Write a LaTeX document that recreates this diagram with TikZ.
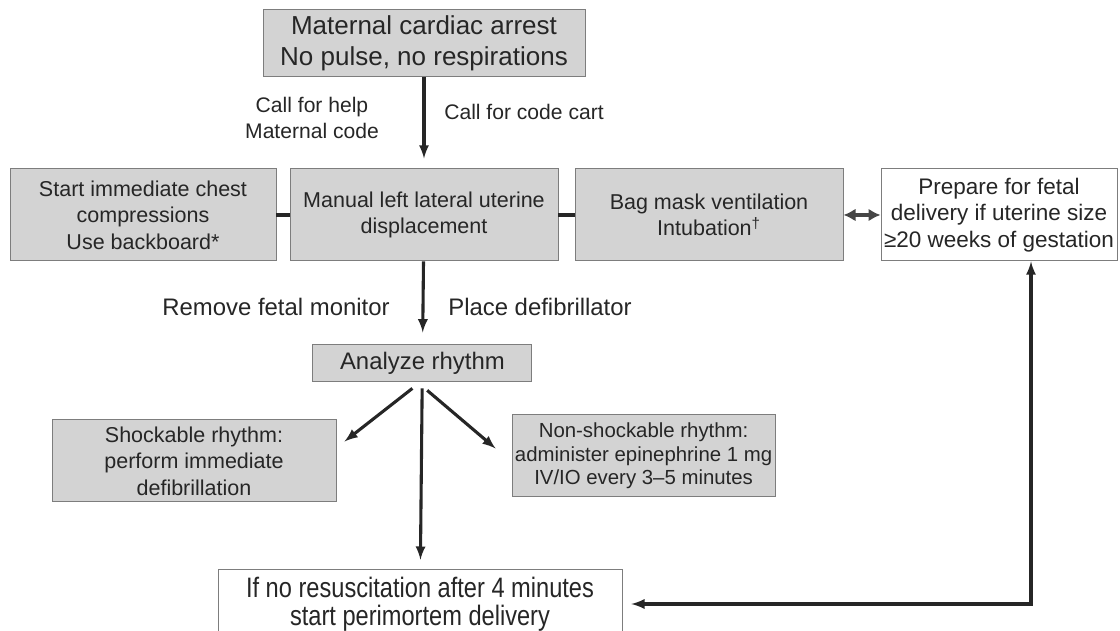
\documentclass[tikz,border=0pt]{standalone}
\usepackage{fontspec}
\setmainfont{Liberation Sans}
\newfontfamily\narrowfont[FakeStretch=0.84]{Liberation Sans}
\usetikzlibrary{arrows,arrows.meta}
\definecolor{boxfill}{RGB}{211,211,211}
\definecolor{boxline}{RGB}{125,125,125}
\definecolor{ink}{RGB}{38,38,38}
\definecolor{linkgray}{RGB}{70,70,70}
\newcommand{\bigtext}{\fontsize{18.5}{22}\selectfont}
\newcommand{\midtext}{\fontsize{15.3}{18.8}\selectfont}
\newcommand{\smalltext}{\fontsize{14.5}{16.7}\selectfont}
\tikzstyle{greybox}=[draw=boxline, fill=boxfill, line width=0.7pt, align=center, text=ink, inner sep=0pt]
\tikzstyle{whitebox}=[draw=boxline, fill=white, line width=0.7pt, align=center, text=ink, inner sep=0pt]
\tikzstyle{label}=[align=center, text=ink, inner sep=0pt]
\tikzstyle{flow}=[-latex, line width=2.2pt, color=ink]

\begin{document}
\begin{tikzpicture}
  \useasboundingbox (0,0) rectangle (28,15.775);
  \draw (10.6,14.69) node[greybox, minimum width=8.05cm, minimum height=1.675cm, font=\bigtext] (arrest) {Maternal cardiac arrest\\No pulse, no respirations};

  \draw (3.575,10.4) node[greybox, minimum width=6.65cm, minimum height=2.3cm, font=\midtext] (chest) {Start immediate chest\\compressions\\Use backboard*};
  \draw (10.6,10.4) node[greybox, minimum width=6.7cm, minimum height=2.3cm, font=\midtext] (lud) {Manual left lateral uterine\\displacement};
  \draw (17.725,10.4) node[greybox, minimum width=6.7cm, minimum height=2.3cm, font=\midtext] (bag) {Bag mask ventilation\\Intubation\textsuperscript{\dag}};
  \draw (24.975,10.4) node[whitebox, minimum width=5.9cm, minimum height=2.3cm, font=\fontsize{16}{18.8}\selectfont] (prep) {Prepare for fetal\\delivery if uterine size\\≥20 weeks of gestation};

  \draw (10.56,6.69) node[greybox, minimum width=5.475cm, minimum height=0.925cm, font=\fontsize{17}{20}\selectfont] (analyze) {Analyze rhythm};

  \draw (4.85,4.25) node[greybox, minimum width=7.1cm, minimum height=2.05cm, font=\midtext] (shock) {Shockable rhythm:\\perform immediate\\defibrillation};
  \draw (16.09,4.375) node[greybox, minimum width=6.575cm, minimum height=2.05cm, font=\smalltext] (nonshock) {Non-shockable rhythm:\\administer epinephrine 1 mg\\IV/IO every 3--5 minutes};

  \draw (10.5,0.675) node[whitebox, minimum width=10.1cm, minimum height=1.75cm, font=\narrowfont\fontsize{20}{20}\selectfont] (perimortem) {If no resuscitation after 4 minutes\\start perimortem delivery};

  %% labels on the arrows
  \draw (7.8,12.825) node[label, font=\fontsize{15}{18.4}\selectfont] (help) {Call for help\\Maternal code};
  \draw (13.1,12.975) node[label, font=\fontsize{15}{18.4}\selectfont] (cart) {Call for code cart};
  \draw (6.9,8.1) node[label, font=\fontsize{17}{20}\selectfont] (monitor) {Remove fetal monitor};
  \draw (13.5,8.1) node[label, font=\fontsize{17}{20}\selectfont] (defib) {Place defibrillator};

  \draw[flow, shorten >=0.25cm] (arrest) -- (lud);
  \draw[line width=2.2pt, color=ink] (chest) -- (lud);
  \draw[line width=2.2pt, color=ink] (lud) -- (bag);
  \draw[{Latex[length=0.3cm,width=0.32cm]}-{Latex[length=0.3cm,width=0.32cm]}, line width=2.4pt, color=linkgray] (bag) -- (prep);

  \draw[flow, shorten >=0.3cm] (lud) -- (analyze);
  \draw[flow] ([shift={(-0.25,-0.15)}]analyze.south) -- ([shift={(0.2,-0.55)}]shock.north east);
  \draw[flow] ([shift={(0.12,-0.2)}]analyze.south) -- ([shift={(-0.4,-0.85)}]nonshock.north west);
  \draw[flow, shorten <=0.15cm, shorten >=0.22cm] (analyze) -- (perimortem);

  %% back to the fetal delivery box
  \draw[latex-latex, line width=2.2pt, color=ink, shorten <=0.22cm] (perimortem.east) -| ([xshift=0.8cm]prep.south);
\end{tikzpicture}
\end{document}
